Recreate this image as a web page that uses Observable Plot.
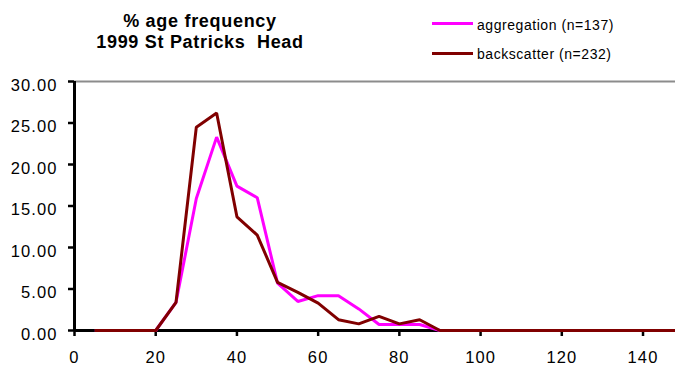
<!DOCTYPE html>
<html>
<head>
<meta charset="utf-8">
<script src="https://cdn.jsdelivr.net/npm/d3@7"></script>
<script src="https://cdn.jsdelivr.net/npm/@observablehq/plot@0.6"></script>
<style>
  body { margin: 0; background: white; }
  #chart { position: relative; width: 675px; height: 370px; overflow: hidden; font-family: "Liberation Sans", Arial, sans-serif; }
  #chart svg text { letter-spacing: 1.1px; }
  .title { position: absolute; left: 0; width: 400px; top: 10.6px; text-align: center;
           font-size: 18px; font-weight: bold; line-height: 21.6px; letter-spacing: 0.7px; }
  .key-line { position: absolute; left: 432px; width: 41px; height: 3px; }
  .key-text { position: absolute; left: 477px; font-size: 14px; line-height: 14px; letter-spacing: 0.55px; white-space: nowrap; }
</style>
</head>
<body>
<div id="chart">
  <div class="title">% age frequency<br>1999 St Patricks&nbsp; Head</div>
  <div class="key-line" style="top:22px;background:#ff00ff"></div>
  <div class="key-text" style="top:18px">aggregation (n=137)</div>
  <div class="key-line" style="top:52px;background:#800000"></div>
  <div class="key-text" style="top:47px">backscatter (n=232)</div>
</div>
<script>
// Size classes (bin starts), percentage frequency per class
const sizeClass = [5, 10, 15, 20, 25, 30, 35, 40, 45, 50, 55, 60, 65, 70, 75,
  80, 85, 90, 95, 100, 105, 110, 115, 120, 125, 130, 135, 140, 145, 150];
const aggregation = [0, 0, 0, 0, 3.4, 15.9, 23.3, 17.4, 16.0, 5.7, 3.5, 4.2, 4.2, 2.6, 0.73,
  0.73, 0.73, 0, 0, 0, 0, 0, 0, 0, 0, 0, 0, 0, 0, 0];
const backscatter = [0, 0, 0, 0, 3.4, 24.5, 26.2, 13.7, 11.5, 5.8, 4.6, 3.3, 1.3, 0.8, 1.7,
  0.8, 1.3, 0, 0, 0, 0, 0, 0, 0, 0, 0, 0, 0, 0, 0];
const yTicks = [0, 5, 10, 15, 20, 25, 30];
const xTicks = [0, 20, 40, 60, 80, 100, 120, 140];

const aggRows = sizeClass.map((x, i) => ({x, y: aggregation[i]}));
const backRows = sizeClass.map((x, i) => ({x, y: backscatter[i]}));

const chart = Plot.plot({
  width: 675,
  height: 370,
  marginLeft: 74,
  marginRight: 0,
  marginTop: 81,
  marginBottom: 40,
  x: {domain: [0, 148]},
  y: {domain: [0, 30]},
  style: {fontFamily: "'Liberation Sans', Arial, sans-serif", fontSize: "16.5px", color: "black", background: "transparent", overflow: "hidden"},
  marks: [
    Plot.ruleY([30], {stroke: "#8c8c8c", strokeWidth: 2}),
    Plot.axisY(yTicks, {tickSize: 6, tickFormat: () => "", strokeWidth: 2.5, label: null}),
    Plot.axisY(yTicks, {tickSize: 0, tickPadding: 17, dy: 4, tickFormat: d => d.toFixed(2), label: null}),
    Plot.axisX(xTicks, {tickSize: 6, tickPadding: 15, strokeWidth: 2.5, label: null}),
    Plot.ruleY([0], {stroke: "black", strokeWidth: 3}),
    Plot.ruleX([0], {stroke: "black", strokeWidth: 3}),
    Plot.line(aggRows, {x: "x", y: "y", stroke: "#ff00ff", strokeWidth: 3, strokeLinejoin: "miter", strokeLinecap: "butt"}),
    Plot.line(backRows, {x: "x", y: "y", stroke: "#800000", strokeWidth: 3, strokeLinejoin: "miter", strokeLinecap: "butt"})
  ]
});
document.getElementById("chart").prepend(chart);
</script>
</body>
</html>
